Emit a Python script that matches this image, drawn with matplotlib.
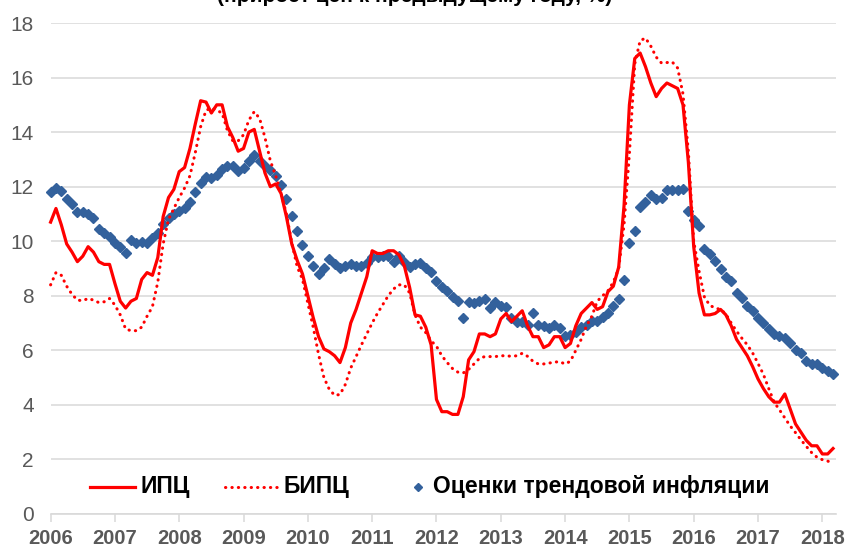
import numpy as np
import matplotlib.pyplot as plt

plt.rcParams['font.family'] = ['Liberation Sans', 'DejaVu Sans']

# monthly values, Jan 2006 - Mar 2018
cpi = [
    10.7, 11.2, 10.6, 9.9, 9.6, 9.25, 9.45, 9.8, 9.6, 9.25, 9.15, 9.15,      # 2006
    8.45, 7.8, 7.55, 7.8, 7.9, 8.6, 8.85, 8.75, 9.4, 10.9, 11.6, 11.9,       # 2007
    12.55, 12.7, 13.4, 14.3, 15.15, 15.1, 14.7, 15.0, 15.0, 14.2, 13.8, 13.3,  # 2008
    13.4, 14.0, 14.1, 13.3, 12.5, 12.0, 12.1, 11.75, 10.9, 9.9, 9.3, 8.8,    # 2009
    8.0, 7.2, 6.5, 6.05, 5.95, 5.8, 5.55, 6.1, 7.0, 7.5, 8.1, 8.7,           # 2010
    9.65, 9.55, 9.55, 9.65, 9.65, 9.5, 9.1, 8.3, 7.3, 7.25, 6.85, 6.2,       # 2011
    4.2, 3.75, 3.75, 3.65, 3.65, 4.3, 5.65, 5.95, 6.6, 6.6, 6.5, 6.6,        # 2012
    7.15, 7.35, 7.05, 7.25, 7.45, 6.9, 6.5, 6.5, 6.1, 6.2, 6.5, 6.5,         # 2013
    6.1, 6.25, 6.9, 7.35, 7.55, 7.75, 7.5, 7.6, 8.15, 8.35, 9.05, 11.3,      # 2014
    15.0, 16.7, 16.9, 16.4, 15.8, 15.3, 15.6, 15.8, 15.7, 15.6, 15.0, 12.9,  # 2015
    9.8, 8.1, 7.3, 7.3, 7.35, 7.5, 7.3, 6.9, 6.4, 6.1, 5.8, 5.4,             # 2016
    4.95, 4.6, 4.3, 4.1, 4.1, 4.4, 3.85, 3.3, 3.0, 2.7, 2.5, 2.5,            # 2017
    2.2, 2.2, 2.4,                                                           # 2018
]

core_cpi = [
    8.4, 8.85, 8.75, 8.35, 8.05, 7.84, 7.82, 7.9, 7.84, 7.75, 7.78, 7.9,          # 2006
    7.66, 7.3, 6.78, 6.72, 6.72, 6.85, 7.25, 7.6, 8.5, 9.9, 10.8, 11.2,           # 2007
    11.6, 11.95, 12.4, 13.25, 14.2, 14.8, 14.88, 14.8, 14.7, 14.05, 13.68, 13.68,  # 2008
    13.9, 14.44, 14.75, 14.5, 13.8, 12.95, 12.4, 11.75, 11.0, 9.95, 9.07, 8.6,    # 2009
    7.72, 6.85, 5.85, 5.0, 4.57, 4.35, 4.38, 4.75, 5.35, 5.77, 6.2, 6.6,          # 2010
    7.0, 7.36, 7.68, 8.0, 8.25, 8.4, 8.4, 8.1, 7.3, 6.85, 6.65, 6.35,             # 2011
    6.15, 5.8, 5.55, 5.33, 5.2, 5.17, 5.3, 5.5, 5.7, 5.77, 5.77, 5.77,            # 2012
    5.8, 5.8, 5.78, 5.8, 5.89, 5.78, 5.6, 5.5, 5.5, 5.53, 5.57, 5.58,             # 2013
    5.5, 5.6, 6.0, 6.4, 6.9, 7.25, 7.8, 8.0, 8.18, 8.5, 9.0, 10.6,                # 2014
    13.2, 16.5, 17.35, 17.45, 17.15, 16.75, 16.53, 16.55, 16.57, 16.35, 15.4, 13.3,  # 2015
    10.0, 8.9, 7.95, 7.65, 7.55, 7.5, 7.33, 7.0, 6.7, 6.44, 6.2, 5.9,             # 2016
    5.52, 5.12, 4.6, 4.1, 3.82, 3.52, 3.23, 2.98, 2.72, 2.48, 2.25, 2.08,         # 2017
    1.99, 1.94, 1.85,                                                             # 2018
]

trend = [
    11.79, 11.96, 11.84, 11.55, 11.35, 11.08, 11.08, 10.99, 10.86, 10.43, 10.31, 10.17,  # 2006
    9.95, 9.77, 9.56, 10.04, 9.92, 9.98, 9.92, 10.1, 10.29, 10.63, 10.84, 10.98,         # 2007
    11.12, 11.2, 11.45, 11.82, 12.12, 12.34, 12.3, 12.43, 12.63, 12.76, 12.76, 12.59,    # 2008
    12.7, 12.95, 13.16, 12.95, 12.76, 12.61, 12.4, 12.06, 11.55, 10.92, 10.39, 9.86,     # 2009
    9.46, 9.09, 8.8, 9.03, 9.34, 9.16, 9.0, 9.09, 9.15, 9.1, 9.1, 9.19,                  # 2010
    9.43, 9.43, 9.46, 9.47, 9.25, 9.47, 9.23, 9.07, 9.16, 9.19, 9.03, 8.86,              # 2011
    8.54, 8.31, 8.16, 7.94, 7.81, 7.17, 7.78, 7.72, 7.81, 7.87, 7.54, 7.76,              # 2012
    7.63, 7.6, 7.17, 7.03, 7.02, 6.94, 7.36, 6.91, 6.88, 6.8, 6.91, 6.82,                # 2013
    6.52, 6.55, 6.67, 6.87, 6.93, 7.07, 7.09, 7.23, 7.38, 7.62, 7.87, 8.58,              # 2014
    9.95, 10.39, 11.27, 11.45, 11.69, 11.55, 11.6, 11.88, 11.88, 11.88, 11.9, 11.12,     # 2015
    10.78, 10.55, 9.7, 9.53, 9.27, 8.97, 8.7, 8.54, 8.11, 7.9, 7.62, 7.44,               # 2016
    7.17, 7.01, 6.77, 6.59, 6.52, 6.46, 6.26, 6.01, 5.91, 5.62, 5.49, 5.49,              # 2017
    5.37, 5.24, 5.13,                                                                    # 2018
]

years = [str(y) for y in range(2006, 2019)]
labels = ['ИПЦ', 'БИПЦ', 'Оценки трендовой инфляции']

red = '#FF0000'
blue = '#33619C'
grid_col = '#D9D9D9'
tick_col = '#595959'

months = np.arange(len(cpi))

fig = plt.figure(figsize=(8.49, 5.49), dpi=100)
ax = fig.add_axes([0.0596, 0.0638, 0.9254, 0.8943])

ax.plot(months, trend, linestyle='none', marker='D', markersize=5.4,
        color=blue, zorder=2, clip_on=False)
ax.plot(months, core_cpi, color=red, lw=2.2, linestyle=(0, (0.1, 2.0)),
        dash_capstyle='round', zorder=3, clip_on=False)
ax.plot(months, cpi, color=red, lw=2.3, zorder=4, clip_on=False)

ax.set_ylim(0, 18)
ax.set_yticks(range(0, 19, 2))
ax.set_xlim(0, 146.6)
ax.set_xticks(range(0, len(years) * 12, 12))
ax.set_xticklabels(years)

ax.grid(axis='y', color=grid_col, lw=1.1)
ax.set_axisbelow(True)
for side in ['left', 'right', 'top']:
    ax.spines[side].set_visible(False)
ax.spines['bottom'].set_color(grid_col)
ax.spines['bottom'].set_linewidth(1.2)

ax.tick_params(axis='y', length=0, pad=12, labelsize=15, labelcolor=tick_col)
ax.tick_params(axis='x', length=6, width=1.1, color=grid_col, pad=5,
               labelsize=14.5, labelcolor=tick_col)
for t in ax.get_xticklabels():
    t.set_fontweight('bold')

# legend row drawn by hand inside the plot area
ly = 0.055
ax.plot([0.050, 0.1075], [ly, ly], transform=ax.transAxes, color=red, lw=2.3)
ax.text(0.114, ly, labels[0], transform=ax.transAxes, va='center',
        fontsize=16.5, fontweight='bold')
ax.plot([0.222, 0.290], [ly, ly], transform=ax.transAxes, color=red, lw=2.2,
        linestyle=(0, (0.1, 2.0)), dash_capstyle='round')
ax.text(0.296, ly, labels[1], transform=ax.transAxes, va='center',
        fontsize=16.5, fontweight='bold')
ax.plot([0.468], [ly], transform=ax.transAxes, marker='D', markersize=4.5,
        color=blue, linestyle='none')
ax.text(0.487, ly, labels[2], transform=ax.transAxes, va='center',
        fontsize=16.5, fontweight='bold')

# title, cut off by the top edge of the picture as in the source
fig.text(0.488, 0.9965, '(прирост цен к предыдущему году, %)', ha='center',
         va='baseline', fontsize=15, fontweight='bold')

fig.savefig('out.png', dpi=100)
